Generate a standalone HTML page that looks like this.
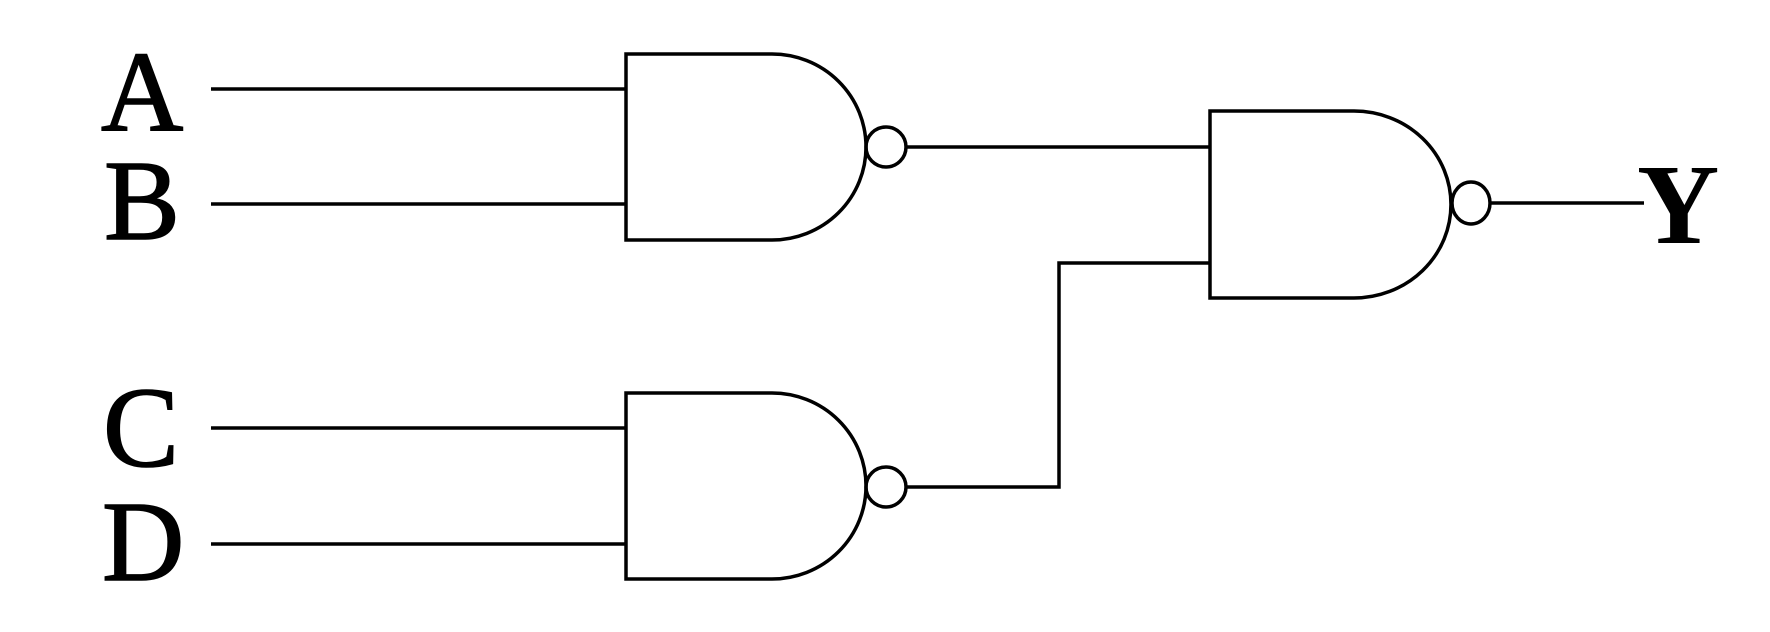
<!DOCTYPE html>
<html><head><style>html,body{margin:0;padding:0;background:#fff;width:1770px;height:632px;overflow:hidden}</style></head>
<body>
<svg width="1770" height="632" viewBox="0 0 1770 632" xmlns="http://www.w3.org/2000/svg">
<g fill="none" stroke="#000" stroke-width="3.5">
<path d="M211 89H626M211 204H626"/>
<path d="M626 54H772A94 93 0 0 1 772 240H626Z"/>
<ellipse cx="886" cy="147" rx="20" ry="20"/>
<path d="M906 147H1210"/>
<path d="M211 428H626M211 544H626"/>
<path d="M626 393H772A94 93 0 0 1 772 579H626Z"/>
<ellipse cx="886" cy="487" rx="20" ry="20"/>
<path d="M906 487H1059V263H1210"/>
<path d="M1210 111H1354A97 93.5 0 0 1 1354 298H1210Z"/>
<ellipse cx="1471" cy="203" rx="19" ry="21"/>
<path d="M1490 203H1644"/>
</g>
<g font-family="'Liberation Serif',serif" font-size="114" fill="#000" stroke="#000" stroke-width="1.5">
<text x="101" y="130">A</text>
<text x="104" y="239">B</text>
<text x="103" y="466">C</text>
<text x="102" y="580">D</text>
<text x="1637" y="243" font-weight="bold" stroke-width="0">Y</text>
</g>
</svg>
</body></html>
